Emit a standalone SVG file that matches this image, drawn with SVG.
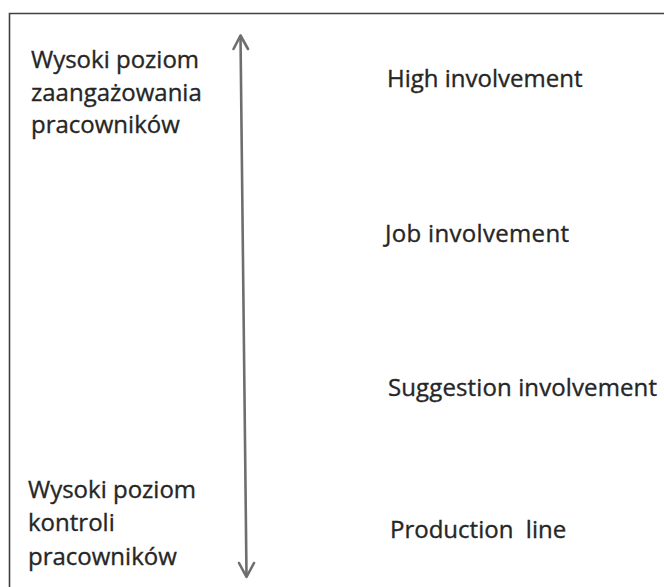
<svg xmlns="http://www.w3.org/2000/svg" width="664" height="587" viewBox="0 0 664 587">
<style>
.t{font-family:"Open Sans","Liberation Sans",sans-serif;font-size:24px;fill:#262626;stroke:#262626;stroke-width:0.35}
.frame{stroke:#404040;stroke-width:1.6;fill:none}
.axis{stroke:#6e6e6e;stroke-width:2.6;fill:none;stroke-linecap:round;stroke-linejoin:round}
</style>
<rect width="664" height="587" fill="#ffffff"/>
<path class="frame" d="M9.5 587 V13.5 H664"/>
<g id="label-top">
<text class="t" x="31" y="68">Wysoki poziom</text>
<text class="t" x="31" y="101">zaangażowania</text>
<text class="t" x="31" y="133">pracowników</text>
</g>
<g id="label-bottom">
<text class="t" x="28" y="498">Wysoki poziom</text>
<text class="t" x="28" y="531">kontroli</text>
<text class="t" x="28" y="565">pracowników</text>
</g>
<g id="high"><text class="t" x="387" y="87">High involvement</text></g>
<g id="job"><text class="t" x="385" y="242" textLength="184">Job involvement</text></g>
<g id="suggestion"><text class="t" x="388" y="396" textLength="269">Suggestion involvement</text></g>
<g id="production"><text class="t" x="390" y="538" xml:space="preserve">Production  line</text></g>
<g id="connectors">
<path class="axis" d="M240.5 36 L246.5 576"/>
<path class="axis" d="M233.5 49 L240.5 35.5 L248 49"/>
<path class="axis" d="M239 563 L246.5 577 L254 563"/>
</g>
</svg>
